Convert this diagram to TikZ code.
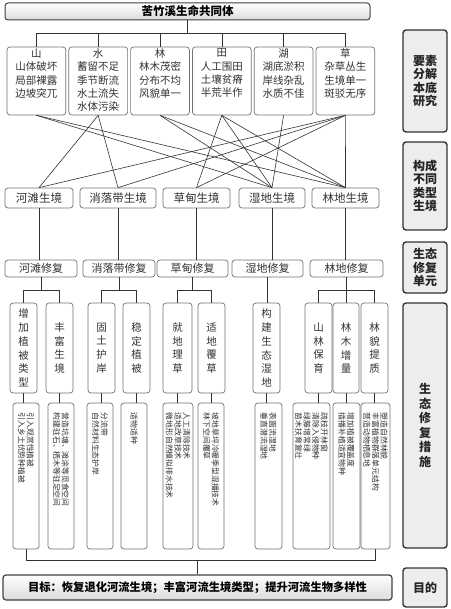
\documentclass[tikz,border=0pt]{standalone}
\usepackage{fontspec}
\setmainfont{Noto Sans CJK SC}
\begin{document}
\begin{tikzpicture}[x=1pt,y=-1pt,
  box/.style={draw=black!55, line width=0.7pt, rounded corners=3pt, fill=white, inner sep=0pt},
  hbox/.style={draw=black!75, line width=1pt, rounded corners=3pt, top color=white, bottom color=black!14, inner sep=0pt},
  side/.style={draw=black!80, line width=1.4pt, rounded corners=3pt, fill=black!7, inner sep=0pt, minimum width=44pt, align=center, text=black!85, font=\bfseries\fontsize{12}{13.4}\selectfont},
  elemtext/.style={inner sep=0pt, align=center, text=black!80, font=\fontsize{10.5}{13.3}\selectfont},
  habtext/.style={text=black!80, font=\fontsize{11.5}{13}\selectfont},
  reptext/.style={text=black!80, font=\fontsize{11}{13}\selectfont},
  vtext/.style={align=center, text=black!80, font=\fontsize{10.5}{13.8}\selectfont},
  btext/.style={rotate=-90, anchor=west, align=left, inner sep=0pt, text=black!80, font=\fontsize{7.8}{8.6}\selectfont},
  conn/.style={draw=black!80, line width=0.6pt}
]
\useasboundingbox (0,0) rectangle (450,609);
% top
\node[hbox, minimum width=365pt, minimum height=17pt, font=\bfseries\fontsize{11.5}{13}\selectfont] (top) at (187.5,11.5) {苦竹溪生命共同体};
% side labels
\node[side, minimum height=102pt] (s1) at (425,81) {要素\\分解\\本底\\研究};
\node[side, minimum height=88pt] (s2) at (425,186) {构成\\不同\\类型\\生境};
\node[side, minimum height=51pt] (s3) at (425,267.5) {生态\\修复\\单元};
\node[side, minimum height=245pt, font=\bfseries\fontsize{12}{14.6}\selectfont] (s4) at (425,425.5) {生\\态\\修\\复\\措\\施};
\node[side, minimum height=39pt] (s5) at (425,587.5) {目的};
% element boxes
\foreach \i/\x in {1/36.4,2/98.2,3/160,4/221.8,5/283.6,6/345.4}{
  \node[box, minimum width=58.8pt, minimum height=68pt] (e\i) at (\x,81) {};
}
\node[elemtext, anchor=north] (e1t) at ([yshift=-2pt]e1.north) {山\\山体破坏\\局部裸露\\边坡突兀};
\node[elemtext, anchor=north] (e2t) at ([yshift=-2pt]e2.north) {水\\蓄留不足\\季节断流\\水土流失\\水体污染};
\node[elemtext, anchor=north] (e3t) at ([yshift=-2pt]e3.north) {林\\林木茂密\\分布不均\\风貌单一};
\node[elemtext, anchor=north] (e4t) at ([yshift=-2pt]e4.north) {田\\人工围田\\土壤贫瘠\\半荒半作};
\node[elemtext, anchor=north] (e5t) at ([yshift=-2pt]e5.north) {湖\\湖底淤积\\岸线杂乱\\水质不佳};
\node[elemtext, anchor=north] (e6t) at ([yshift=-2pt]e6.north) {草\\杂草丛生\\生境单一\\斑驳无序};
% tree top -> elements
\coordinate (bus1) at (0,33);
\draw[conn] (top.south) -- (top.south |- bus1);
\draw[conn] (e1.north |- bus1) -- (e6.north |- bus1);
\foreach \i in {1,...,6}{ \draw[conn] (e\i.north) -- (e\i.north |- bus1); }
% habitats
\node[box, minimum width=68pt, minimum height=20pt, habtext] (h1) at (39,198) {河滩生境};
\node[box, minimum width=76pt, minimum height=20pt, habtext] (h2) at (118,198) {消落带生境};
\node[box, minimum width=67pt, minimum height=20pt, habtext] (h3) at (196.5,198) {草甸生境};
\node[box, minimum width=66pt, minimum height=20pt, habtext] (h4) at (272,198) {湿地生境};
\node[box, minimum width=67pt, minimum height=20pt, habtext] (h5) at (345.5,198) {林地生境};
% element -> habitat
\foreach \a/\b in {1/4,1/5,2/1,2/2,3/4,3/5,4/3,4/4,4/5,5/4,6/1,6/2,6/3,6/5}{
  \draw[conn] (e\a.south) -- (h\b.north);
}
% repair units
\node[box, minimum width=72pt, minimum height=17pt, reptext] (r1) at (41,268.5) {河滩修复};
\node[box, minimum width=72pt, minimum height=17pt, reptext] (r2) at (119,268.5) {消落带修复};
\node[box, minimum width=71pt, minimum height=17pt, reptext] (r3) at (192.5,268.5) {草甸修复};
\node[box, minimum width=71pt, minimum height=17pt, reptext] (r4) at (267.5,268.5) {湿地修复};
\node[box, minimum width=73pt, minimum height=17pt, reptext] (r5) at (346.5,268.5) {林地修复};
\foreach \i in {1,...,5}{ \draw[conn] (h\i.south) -- (h\i.south |- r\i.north); }
% measures upper
\foreach \i/\x/\w in {1/23.5/27,2/59.5/27,3/101.5/27,4/136.5/27,5/177.5/29,6/211.5/27,7/266.5/27,8/318.5/27,9/346/26,10/374.5/27}{
  \node[box, minimum width=\w pt, minimum height=90pt] (m\i) at (\x,348) {};
}
\node[vtext] (m1t) at (m1) {增\\加\\植\\被\\类\\型};
\node[vtext] (m2t) at (m2) {丰\\富\\生\\境};
\node[vtext] (m3t) at (m3) {固\\土\\护\\岸};
\node[vtext] (m4t) at (m4) {稳\\定\\植\\被};
\node[vtext] (m5t) at (m5) {就\\地\\理\\草};
\node[vtext] (m6t) at (m6) {适\\地\\覆\\草};
\node[vtext] (m7t) at (m7) {构\\建\\生\\态\\湿\\地};
\node[vtext] (m8t) at (m8) {山\\林\\保\\育};
\node[vtext] (m9t) at (m9) {林\\木\\增\\量};
\node[vtext] (m10t) at (m10) {林\\貌\\提\\质};
% repair -> measures
\coordinate (bus2) at (0,290);
\foreach \r/\p/\q in {1/1/2,2/3/4,3/5/6,5/8/10}{
  \draw[conn] (r\r.south) -- (r\r.south |- bus2);
  \draw[conn] (m\p.north |- bus2) -- (m\q.north |- bus2);
}
\foreach \i in {1,2,3,4,5,6,8,9,10}{ \draw[conn] (m\i.north) -- (m\i.north |- bus2); }
\draw[conn] (r4.south) -- (r4.south |- m7.north);
% bottom boxes
\foreach \i/\x/\w in {1/26/26,2/61/26,3/100/26,4/134/26,5/178/30,6/211/26,7/268.5/27,8/311.5/37,9/346.5/27,10/375.5/29}{
  \node[box, minimum width=\w pt, minimum height=146pt] (b\i) at (\x,476) {};
}
\foreach \i in {1,...,10}{ \draw[conn] (m\i.south) -- (m\i.south |- b\i.north); }
\node[btext] (b1t) at ([yshift=-10pt]b1.north) {引入观赏性植被\\引入乡土优势种植被};
\node[btext] (b2t) at ([yshift=-10pt]b2.north) {营造坑塘、滩涂等觅食空间\\构建驻石、栖木等驻足空间};
\node[btext] (b3t) at ([yshift=-10pt]b3.north) {分流带\\自然材料生态护岸};
\node[btext] (b4t) at ([yshift=-10pt]b4.north) {适物适种};
\node[btext] (b5t) at ([yshift=-10pt]b5.north) {人工清除技术\\适地改草技术\\微地形自然模拟排水技术};
\node[btext] (b6t) at ([yshift=-10pt]b6.north) {坡地草坪冷暖季型混播技术\\林下空间覆草};
\node[btext] (b7t) at ([yshift=-10pt]b7.north) {表面流湿地\\垂直潜流湿地};
\node[btext] (b8t) at ([yshift=-10pt]b8.north) {疏枝开林窗\\清除入侵物种\\绿藤增常绿\\苗木扶育复壮};
\node[btext] (b9t) at ([yshift=-10pt]b9.north) {增加植被覆盖度\\插播补植适宜物种};
\node[btext] (b10t) at ([yshift=-10pt]b10.north) {塑造自然林貌\\丰富植物群落单元结构\\营造动物栖息地};
% goal
\node[hbox, line width=1.2pt, minimum width=389pt, minimum height=25pt, font=\bfseries\fontsize{11.3}{13}\selectfont] (goal) at (197.5,587.5) {目标：恢复退化河流生境；丰富河流生境类型；提升河流生物多样性};
\coordinate (bus3) at (0,560);
\draw[conn] (b1.south) -- (b1.south |- bus3) -- (b10.south |- bus3) -- (b10.south);
\draw[conn] (goal.north) -- (goal.north |- bus3);
\end{tikzpicture}
\end{document}
